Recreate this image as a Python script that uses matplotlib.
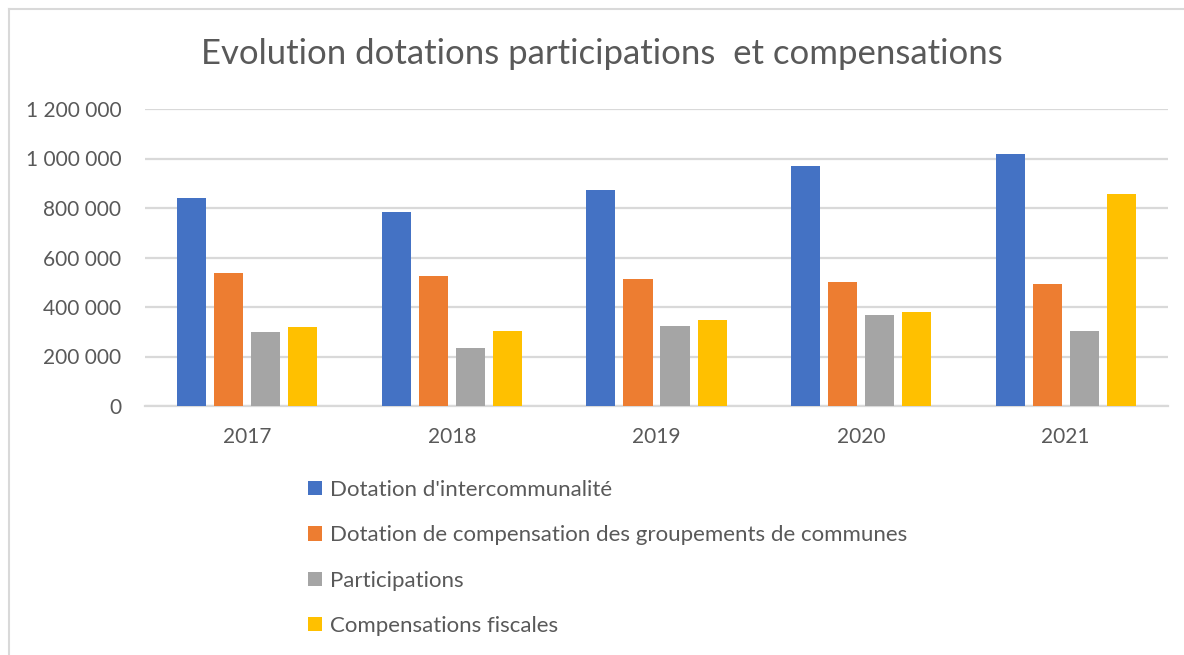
import matplotlib.pyplot as plt
from matplotlib.ticker import FuncFormatter
from matplotlib.lines import Line2D
import numpy as np

plt.rcParams['font.family'] = ['Lato', 'DejaVu Sans']

annees = ['2017', '2018', '2019', '2020', '2021']
series = [
    "Dotation d'intercommunalité",
    "Dotation de compensation des groupements de communes",
    "Participations",
    "Compensations fiscales",
]
dotation_interco = [840000, 784000, 872000, 968000, 1017000]
dotation_compensation = [536000, 525000, 513000, 502000, 493000]
participations = [298000, 236000, 322000, 369000, 305000]
compensations_fiscales = [319000, 303000, 349000, 380000, 855000]
couleurs = ['#4472C4', '#ED7D31', '#A5A5A5', '#FFC000']

valeurs = [dotation_interco, dotation_compensation, participations, compensations_fiscales]

W, H = 1184, 655
fig = plt.figure(figsize=(W / 100, H / 100), dpi=100)
ax = fig.add_axes([145 / W, 1 - 406 / H, (1168 - 145) / W, (406 - 109) / H])

x = np.arange(len(annees))
largeur = 0.142
pas = 0.181
barres = []
for i, (v, c) in enumerate(zip(valeurs, couleurs)):
    b = ax.bar(x + (i - 1.5) * pas, v, width=largeur, color=c, zorder=3)
    barres.append(b)

ax.set_xlim(-0.5, len(annees) - 0.5)
ax.set_ylim(0, 1200000)
ax.set_yticks(range(0, 1200001, 200000))
ax.yaxis.set_major_formatter(FuncFormatter(lambda v, p: f'{int(v):,}'.replace(',', ' ')))
ax.set_xticks(x)
ax.set_xticklabels(annees)
ax.tick_params(axis='both', length=0, labelsize=15, labelcolor='#595959')
ax.tick_params(axis='y', pad=17)
ax.tick_params(axis='x', pad=15)
ax.grid(axis='y', color='#d9d9d9', linewidth=1.6, zorder=0)
for s in ['top', 'right', 'left']:
    ax.spines[s].set_visible(False)
ax.spines['bottom'].set_color('#d9d9d9')
ax.spines['bottom'].set_linewidth(1.6)

fig.text(602 / W, 1 - 54 / H, 'Evolution dotations participations  et compensations',
         ha='center', va='center', fontsize=25, color='#595959')

fig.legend(barres, series, loc='upper left', bbox_to_anchor=(288 / W, 1 - 460 / H),
           frameon=False, fontsize=16, labelcolor='#595959',
           handlelength=0.63, handleheight=0.63, handletextpad=0.35, labelspacing=1.14)

# bordure du graphique
fig.add_artist(Line2D([9 / W, 9 / W], [0, 1 - 9 / H], color='#d9d9d9', linewidth=1.5))
fig.add_artist(Line2D([9 / W, 1], [1 - 9 / H, 1 - 9 / H], color='#d9d9d9', linewidth=1.5))

fig.savefig('out.png', dpi=100)
